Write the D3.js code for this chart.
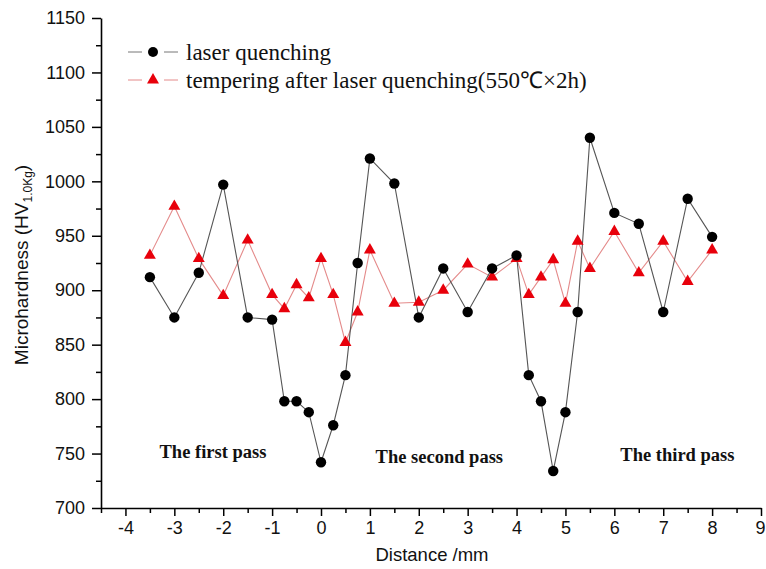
<!DOCTYPE html>
<html>
<head>
<meta charset="utf-8">
<script src="https://cdn.jsdelivr.net/npm/d3@7"></script>
<style>
  body { margin: 0; background: #fff; }
  svg { display: block; }
</style>
</head>
<body>
<div id="chart"></div>
<script>
// distance positions (mm) shared by both series
const DISTANCE = [-3.5, -3, -2.5, -2, -1.5, -1, -0.75, -0.5, -0.25, 0, 0.25, 0.5, 0.75,
  1, 1.5, 2, 2.5, 3, 3.5, 4, 4.25, 4.5, 4.75, 5, 5.25, 5.5, 6, 6.5, 7, 7.5, 8];

const QUENCHING = [912, 875, 916, 997, 875, 873, 798, 798, 788, 742, 776, 822, 925,
  1021, 998, 875, 920, 880, 920, 932, 822, 798, 734, 788, 880, 1040, 971, 961, 880, 984, 949];

const TEMPERING = [932, 977, 929, 895, 946, 896, 883, 905, 893, 929, 896, 852, 880,
  937, 888, 889, 900, 924, 912, 929, 896, 912, 928, 888, 945, 920, 954, 916, 945, 908, 937];

const X_TICKS = [-4, -3, -2, -1, 0, 1, 2, 3, 4, 5, 6, 7, 8, 9];
const Y_TICKS = [700, 750, 800, 850, 900, 950, 1000, 1050, 1100, 1150];

const PASS_LABELS = [
  { text: "The first pass", x: -2.21, y: 746 },
  { text: "The second pass", x: 2.42, y: 741 },
  { text: "The third pass", x: 7.29, y: 743 },
];

const LEGEND = [
  { name: "laser quenching", marker: "circle" },
  { name: "tempering after laser quenching(550\u2103\u00d72h)", marker: "triangle" },
];

const width = 766, height = 569;
const SANS = "Liberation Sans, Arial, sans-serif";
const SERIF = "Liberation Serif, Times New Roman, serif";
const svg = d3.select("#chart").append("svg")
  .attr("width", width).attr("height", height);

const xScale = d3.scaleLinear().domain([-4.5, 9]).range([101, 761]);
const yScale = d3.scaleLinear().domain([700, 1150]).range([508, 18]);

// axes with minor ticks
const xMinor = d3.range(-4.5, 9.01, 0.5).filter(d => !X_TICKS.includes(d));
const yMinor = d3.range(725, 1150, 50);

svg.append("g")
  .attr("transform", `translate(0,${yScale(700)})`)
  .call(d3.axisBottom(xScale).tickValues(xMinor).tickSize(5).tickFormat(""))
  .call(g => g.select(".domain").remove())
  .selectAll("line").attr("stroke-width", 1.5);

const xAxis = svg.append("g")
  .attr("transform", `translate(0,${yScale(700)})`)
  .call(d3.axisBottom(xScale).tickValues(X_TICKS).tickSize(8).tickSizeOuter(0)
    .tickPadding(5).tickFormat(d => String(d)));
xAxis.select(".domain").attr("stroke-width", 1.6);
xAxis.selectAll("line").attr("stroke-width", 1.5);
xAxis.selectAll("text")
  .attr("font-family", SANS).attr("font-size", 18).attr("fill", "#111")
  .attr("dx", d => d === 9 ? -1 : 0);

svg.append("g")
  .attr("transform", `translate(${xScale(-4.5)},0)`)
  .call(d3.axisLeft(yScale).tickValues(yMinor).tickSize(5).tickFormat(""))
  .call(g => g.select(".domain").remove())
  .selectAll("line").attr("stroke-width", 1.5);

const yAxis = svg.append("g")
  .attr("transform", `translate(${xScale(-4.5)},0)`)
  .call(d3.axisLeft(yScale).tickValues(Y_TICKS).tickSize(9).tickSizeOuter(0)
    .tickPadding(7).tickFormat(d => String(d)));
yAxis.select(".domain").attr("stroke-width", 1.6);
yAxis.selectAll("line").attr("stroke-width", 1.5);
yAxis.selectAll("text")
  .attr("font-family", SANS).attr("font-size", 18).attr("fill", "#111");

// axis titles
svg.append("text")
  .attr("x", 432).attr("y", 561)
  .attr("text-anchor", "middle")
  .attr("font-family", SANS).attr("font-size", 18.5).attr("fill", "#111")
  .text("Distance /mm");

const yTitle = svg.append("text")
  .attr("transform", "translate(28,265) rotate(-90)")
  .attr("text-anchor", "middle")
  .attr("font-family", SANS).attr("font-size", 19).attr("fill", "#111");
yTitle.append("tspan").text("Microhardness (HV");
yTitle.append("tspan").attr("font-size", 12).attr("dy", 4).text("1.0Kg");
yTitle.append("tspan").attr("dy", -4).text(")");

// series
const quench = DISTANCE.map((d, i) => ({ x: d, y: QUENCHING[i] }));
const temper = DISTANCE.map((d, i) => ({ x: d, y: TEMPERING[i] }));
const line = d3.line().x(d => xScale(d.x)).y(d => yScale(d.y));

svg.append("path").datum(temper)
  .attr("fill", "none").attr("stroke", "#e48a8a").attr("stroke-width", 1.1)
  .attr("d", line);
svg.append("path").datum(quench)
  .attr("fill", "none").attr("stroke", "#555").attr("stroke-width", 1.1)
  .attr("d", line);

const tri = d3.symbol().type(d3.symbolTriangle).size(62);

svg.append("g").selectAll("path")
  .data(temper).join("path")
  .attr("transform", d => `translate(${xScale(d.x)},${yScale(d.y)})`)
  .attr("d", tri).attr("fill", "#e8000b");

svg.append("g").selectAll("circle")
  .data(quench).join("circle")
  .attr("cx", d => xScale(d.x)).attr("cy", d => yScale(d.y))
  .attr("r", 5.2).attr("fill", "#000");

// pass labels
svg.append("g").selectAll("text")
  .data(PASS_LABELS).join("text")
  .attr("x", d => xScale(d.x)).attr("y", d => yScale(d.y))
  .attr("text-anchor", "middle")
  .attr("font-family", SERIF)
  .attr("font-weight", "bold").attr("font-size", 18.5).attr("fill", "#111")
  .text(d => d.text);

// legend
const legend = svg.append("g").attr("transform", "translate(128,52)");
const rows = legend.selectAll("g").data(LEGEND).join("g")
  .attr("transform", (d, i) => `translate(0,${i * 28})`);
rows.append("line").attr("x1", 0).attr("x2", 14)
  .attr("stroke", (d, i) => i ? "#e48a8a" : "#777");
rows.append("line").attr("x1", 36).attr("x2", 50)
  .attr("stroke", (d, i) => i ? "#e48a8a" : "#777");
rows.filter(d => d.marker === "circle").append("circle")
  .attr("cx", 25).attr("r", 5).attr("fill", "#000");
rows.filter(d => d.marker === "triangle").append("path")
  .attr("transform", "translate(25,0)")
  .attr("d", tri).attr("fill", "#e8000b");
rows.append("text")
  .attr("x", 58).attr("dy", "0.33em")
  .attr("font-family", SERIF)
  .attr("font-size", 23).attr("fill", "#111")
  .text(d => d.name);
</script>
</body>
</html>
